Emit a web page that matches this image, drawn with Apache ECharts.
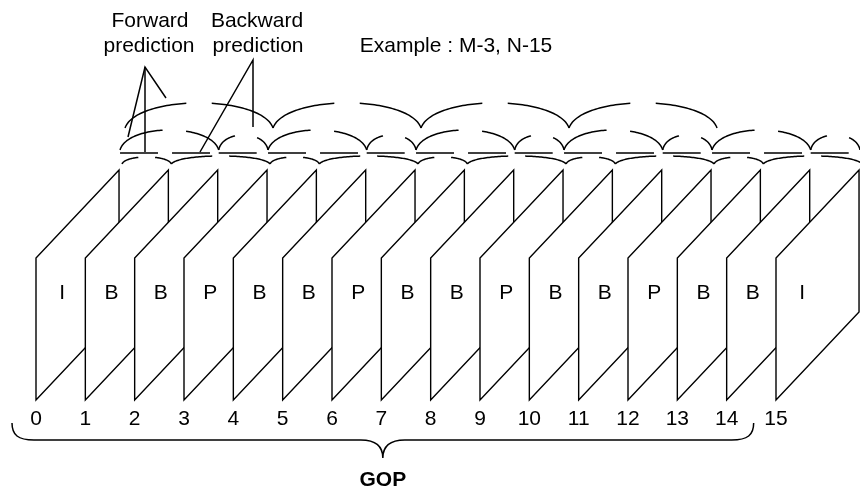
<!DOCTYPE html>
<html>
<head>
<meta charset="utf-8">
<script src="https://cdn.jsdelivr.net/npm/echarts@6/dist/echarts.min.js"></script>
<style>html,body{margin:0;padding:0;background:#fff}#c{width:860px;height:489px}</style>
</head>
<body>
<div id="c"></div>
<script>
// ---- data ----
const frameNumbers = ['0','1','2','3','4','5','6','7','8','9','10','11','12','13','14','15'];
const frameTypes = ['I','B','B','P','B','B','P','B','B','P','B','B','P','B','B','I'];
// anchor-to-anchor prediction arcs (upper row)
const anchorArcs = [[0,3],[3,6],[6,9],[9,12]];
// B-frame prediction arcs (middle row)
const midArcs = [[0,2],[2,3],[3,5],[5,6],[6,8],[8,9],[9,11],[11,12],[12,14],[14,15]];
// shallow arcs (lower row)
const lowArcs = [[0,1],[1,3],[3,4],[4,6],[6,7],[7,9],[9,10],[10,12],[12,13],[13,15]];
const gopRange = [0,14];
const gopLabel = 'GOP';
const exampleText = 'Example : M-3, N-15';
const forwardText = ['Forward','prediction'];
const backwardText = ['Backward','prediction'];

// ---- geometry / style ----
const DX = 1.683, DY = 0.62;
const FONT = '"Liberation Sans", Arial, Helvetica, sans-serif';
const FS = 21;
const LW = 1.5;

const chart = echarts.init(document.getElementById('c'), null, {renderer:'canvas'});

function cubic(p0,p1,p2,p3,t){
  const u=1-t;
  return u*u*u*p0 + 3*u*u*t*p1 + 3*u*t*t*p2 + t*t*t*p3;
}

function makeArcRender(o){
  return function(params, api){
    const a = api.value(0), b = api.value(1);
    const pa = api.coord([a+DX, 1+DY]);
    const pb = api.coord([b+DX, 1+DY]);
    const x1 = pa[0]+o.dx, x2 = pb[0]+o.dx, y0 = pa[1]-o.lift;
    const w = x2-x1;
    const h = w < 70 ? o.hSmall : o.h;
    const cy = y0 - h*4/3;
    const c1x = x1 + 0.08*w, c2x = x2 - 0.08*w;
    const g = Math.min(0.4, o.gap/w);
    const gs = 0.5 - g/2 + o.shift, ge = gs + g;
    const s1=[], s2=[];
    for(let k=0;k<=80;k++){
      const t=k/80;
      const pt=[cubic(x1,c1x,c2x,x2,t), cubic(y0,cy,cy,y0,t)];
      if(t<=gs) s1.push(pt); else if(t>=ge) s2.push(pt);
    }
    const st = {stroke:'#000', lineWidth:LW, fill:null};
    const children = [
      {type:'polyline', shape:{points:s1}, style:st},
      {type:'polyline', shape:{points:s2}, style:st}
    ];
    if(o.chord){
      children.push({type:'line', shape:{x1:x1, y1:y0+3, x2:x2, y2:y0+3},
        style:{stroke:'#000', lineWidth:LW, lineDash:[38,14]}});
    }
    return {type:'group', children};
  };
}

const txt = (x,y,t,extra)=>({type:'text', x, y, style:Object.assign({text:t, fontSize:FS, fontFamily:FONT, fill:'#000', align:'center', verticalAlign:'middle'}, extra||{})});

const option = {
  animation:false,
  backgroundColor:'#fff',
  grid:{left:36, right:84, top:258, bottom:89},
  xAxis:{type:'value', min:0, max:15, interval:1,
    axisLine:{show:false}, axisTick:{show:false}, splitLine:{show:false},
    axisLabel:{show:true, margin:9, fontSize:FS, color:'#000', fontFamily:FONT,
      formatter:(v)=>frameNumbers[v] ?? ''}},
  yAxis:{type:'value', min:0, max:1, show:false},
  graphic:[
    txt(150,21,forwardText[0]),
    txt(149,46,forwardText[1]),
    txt(257,21,backwardText[0]),
    txt(258,46,backwardText[1]),
    txt(456,46,exampleText),
    {type:'polyline', shape:{points:[[128,137],[145,67],[166,98]]}, style:{stroke:'#000', lineWidth:LW, fill:null}, z:10},
    {type:'line', shape:{x1:145,y1:67,x2:145,y2:152}, style:{stroke:'#000', lineWidth:LW}, z:10},
    {type:'polyline', shape:{points:[[200,152],[253,60],[253,127]]}, style:{stroke:'#000', lineWidth:LW, fill:null}, z:10}
  ],
  series:[
    {
      type:'custom', clip:false, z:2,
      data: frameTypes.map((t,i)=>[i]),
      renderItem(params, api){
        const i = api.value(0);
        const p1 = api.coord([i,0]), p2 = api.coord([i,1]);
        const p3 = api.coord([i+DX,1+DY]), p4 = api.coord([i+DX,DY]);
        const lb = api.coord([i+0.53, 0.75]);
        return {type:'group', children:[
          {type:'polygon', shape:{points:[p1,p2,p3,p4]}, style:{fill:'#fff', stroke:'#000', lineWidth:1.4}},
          {type:'text', x:lb[0], y:lb[1], style:{text:frameTypes[params.dataIndex], fontSize:FS, fontFamily:FONT, fill:'#000', align:'center', verticalAlign:'middle'}}
        ]};
      }
    },
    {
      type:'custom', clip:false, z:3,
      data: anchorArcs,
      renderItem: makeArcRender({dx:6, lift:42, h:25, hSmall:25, gap:16, shift:0.0, chord:false})
    },
    {
      type:'custom', clip:false, z:3,
      data: midArcs,
      renderItem: makeArcRender({dx:1, lift:20, h:20, hSmall:15, gap:16, shift:0.04, chord:true})
    },
    {
      type:'custom', clip:false, z:3,
      data: lowArcs,
      renderItem: makeArcRender({dx:3, lift:6, h:8, hSmall:7, gap:12, shift:0.0, chord:false})
    },
    {
      type:'custom', clip:false, z:3,
      data: [gopRange],
      renderItem(params, api){
        const a = api.coord([api.value(0),0]);
        const b = api.coord([api.value(1),0]);
        const xL = a[0]-24, xR = b[0]+27, xm = (xL+xR)/2;
        const yE = a[1]+23, yH = a[1]+40, yT = a[1]+58;
        const d = `M${xL},${yE} C${xL},${yH-5} ${xL+6},${yH} ${xL+22},${yH} L${xm-22},${yH} C${xm-8},${yH} ${xm},${yH+6} ${xm},${yT} C${xm},${yH+6} ${xm+8},${yH} ${xm+22},${yH} L${xR-22},${yH} C${xR-6},${yH} ${xR},${yH-5} ${xR},${yE}`;
        return {type:'group', children:[
          {type:'path', shape:{pathData:d}, style:{stroke:'#000', lineWidth:LW, fill:null}},
          {type:'text', x:xm, y:yT+22, style:{text:gopLabel, fontSize:FS, fontWeight:'bold', fontFamily:FONT, fill:'#000', align:'center', verticalAlign:'middle'}}
        ]};
      }
    }
  ]
};
chart.setOption(option);
</script>
</body>
</html>
